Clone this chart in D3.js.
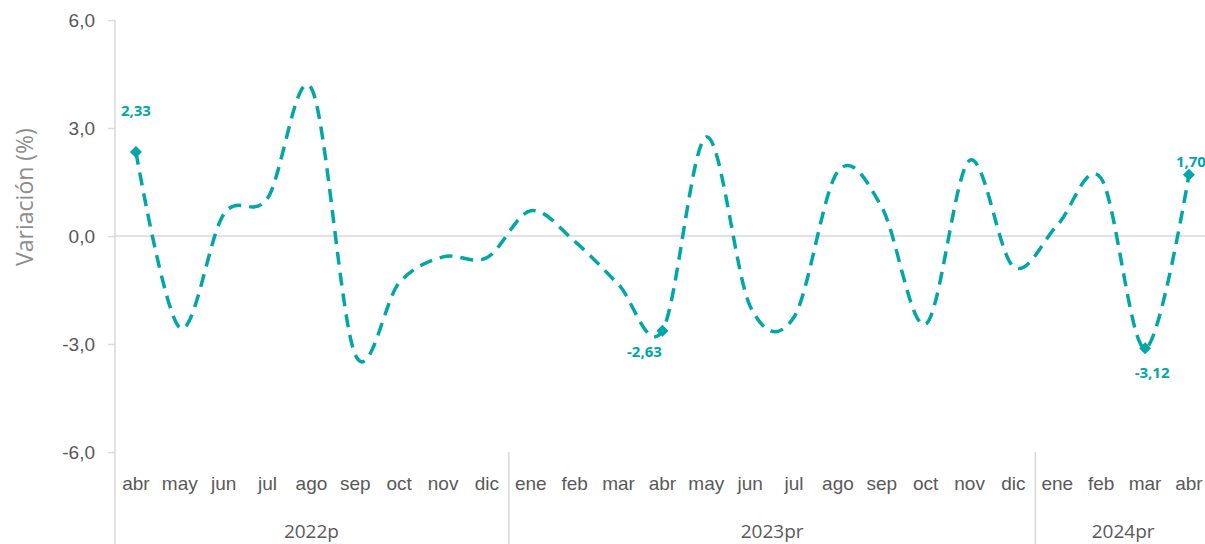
<!DOCTYPE html>
<html>
<head>
<meta charset="utf-8">
<script src="https://cdn.jsdelivr.net/npm/d3@7"></script>
<style>
  body { margin: 0; background: #fff; }
  svg { display: block; font-family: "Open Sans", "Noto Sans", sans-serif; }
  .tick line { stroke: #d9d9d9; stroke-width: 1.5; }
  .tick text { fill: #595959; font-size: 19px; }
  .domain { display: none; }
</style>
</head>
<body>
<svg id="chart"></svg>
<script>
// data
var months = ["abr","may","jun","jul","ago","sep","oct","nov","dic",
              "ene","feb","mar","abr","may","jun","jul","ago","sep","oct","nov","dic",
              "ene","feb","mar","abr"];
var years = ["2022p","2023pr","2024pr"];
var yearOf = [0,0,0,0,0,0,0,0,0, 1,1,1,1,1,1,1,1,1,1,1,1, 2,2,2,2];
var values = [2.33, -2.55, 0.6, 1.05, 4.1, -3.3, -1.3, -0.58, -0.6,
              0.7, -0.15, -1.35, -2.63, 2.75, -1.95, -2.25, 1.8, 0.8, -2.45, 2.1, -0.85,
              0.3, 1.6, -3.12, 1.70];
var yTicks = [-6, -3, 0, 3, 6];
// which points carry a marker + label, and where the label baseline sits
var labelled = [
  {i: 0,  dx: 0,   dy: -36},
  {i: 12, dx: -18, dy: 26},
  {i: 23, dx: 7,   dy: 30},
  {i: 24, dx: 2,   dy: -8}
];

var width = 1205, height = 544;
var margin = {left: 114, top: 20};
var step = 43.875;

var svg = d3.select("#chart").attr("width", width).attr("height", height);

var x = d3.scaleBand()
    .domain(d3.range(months.length))
    .range([margin.left, margin.left + step * months.length]);
var y = d3.scaleLinear().domain([-6, 6]).range([452, margin.top]);

var loc = d3.formatLocale({decimal: ",", thousands: ".", grouping: [3], currency: ["", ""], minus: "-"});
var f1 = loc.format(".1f"), f2 = loc.format(".2f");

var teal = "#00a6a8";
var grid = "#d9d9d9";

// y axis
svg.append("g")
    .attr("transform", "translate(" + (margin.left + 1) + ",0)")
    .call(d3.axisLeft(y).tickValues(yTicks).tickSize(7).tickPadding(13).tickFormat(f1));

svg.append("line")
    .attr("x1", margin.left + 1).attr("x2", margin.left + 1)
    .attr("y1", y(6)).attr("y2", height)
    .attr("stroke", grid).attr("stroke-width", 1.5);

// zero line
svg.append("line")
    .attr("x1", margin.left + 1).attr("x2", width)
    .attr("y1", y(0)).attr("y2", y(0))
    .attr("stroke", grid).attr("stroke-width", 1.5);

// month labels
svg.append("g")
    .attr("transform", "translate(0," + y(-6) + ")")
    .call(d3.axisBottom(x).tickSize(0).tickPadding(25).tickFormat(function(i) { return months[i]; }));

// year groups
years.forEach(function(yr, k) {
  var idx = d3.range(months.length).filter(function(i) { return yearOf[i] === k; });
  var x0 = x(idx[0]), x1 = x(idx[idx.length - 1]) + x.bandwidth();
  svg.append("text")
      .attr("x", (x0 + x1) / 2).attr("y", 538)
      .attr("text-anchor", "middle")
      .attr("fill", "#595959").attr("font-size", 19)
      .text(yr);
  if (k > 0) {
    svg.append("line")
        .attr("x1", x0).attr("x2", x0)
        .attr("y1", y(-6)).attr("y2", height)
        .attr("stroke", grid).attr("stroke-width", 1.5);
  }
});

// y label
svg.append("text")
    .attr("transform", "translate(33,197) rotate(-90)")
    .attr("text-anchor", "middle")
    .attr("fill", "#8c8c8c").attr("font-size", 23)
    .text("Variación (%)");

// the line
var line = d3.line()
    .curve(d3.curveCardinal.tension(0))
    .x(function(d, i) { return x(i) + x.bandwidth() / 2; })
    .y(function(d) { return y(d); });

svg.append("path")
    .datum(values)
    .attr("d", line)
    .attr("fill", "none")
    .attr("stroke", teal)
    .attr("stroke-width", 3.5)
    .attr("stroke-dasharray", "13,8");

// markers + labels
var sym = d3.symbol(d3.symbolSquare, 72);
labelled.forEach(function(p) {
  var cx = x(p.i) + x.bandwidth() / 2, cy = y(values[p.i]);
  svg.append("path")
      .attr("d", sym)
      .attr("transform", "translate(" + cx + "," + cy + ") rotate(45)")
      .attr("fill", teal);
  svg.append("text")
      .attr("x", cx + p.dx).attr("y", cy + p.dy)
      .attr("text-anchor", "middle")
      .attr("fill", teal).attr("font-size", 15).attr("font-weight", "bold")
      .text(f2(values[p.i]));
});
</script>
</body>
</html>
